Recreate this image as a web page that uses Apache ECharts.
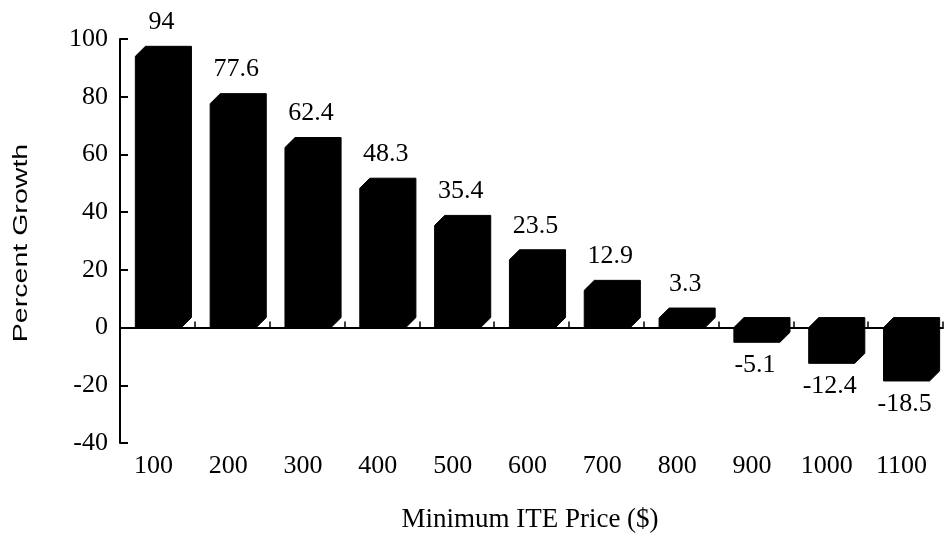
<!DOCTYPE html>
<html>
<head>
<meta charset="utf-8">
<script src="https://cdn.jsdelivr.net/npm/echarts@6/dist/echarts.min.js"></script>
<style>
  html, body { margin: 0; padding: 0; background: #fff; }
  #chart { width: 944px; height: 539px; }
</style>
</head>
<body>
<div id="chart"></div>
<script>
// Minimum ITE price thresholds (x categories)
const categories = ['100', '200', '300', '400', '500', '600', '700', '800', '900', '1000', '1100'];
// Percent growth for each threshold
const growth = [94, 77.6, 62.4, 48.3, 35.4, 23.5, 12.9, 3.3, -5.1, -12.4, -18.5];
// Value axis range
const yMin = -40;
const yMax = 100;
const yStep = 20;

const serif = '"Liberation Serif", "Times New Roman", serif';
const sans = '"Liberation Sans", Arial, sans-serif';

const chart = echarts.init(document.getElementById('chart'), null, { renderer: 'canvas' });

// Bevelled block: front face plus a shifted back face, joined by chamfers
function renderBlock(params, api) {
  const idx = api.value(0);
  const v = api.value(1);
  const base = api.coord([idx, 0]);
  const end = api.coord([idx, v]);
  const band = api.size([1, 0])[0];
  const cx = base[0];
  const xL = cx - band * 0.295;
  const xR = cx + band * 0.32;
  const dx = band * 0.135;
  const dy = 10;
  const yTop = Math.min(base[1], end[1]);
  const yBot = Math.max(base[1], end[1]);
  const points = [
    [xL, yBot],
    [xL, yTop],
    [xL + dx, yTop - dy],
    [xR + dx, yTop - dy],
    [xR + dx, yBot - dy],
    [xR, yBot]
  ];
  const positive = v >= 0;
  return {
    type: 'group',
    children: [
      {
        type: 'polygon',
        shape: { points: points },
        style: { fill: '#000', stroke: '#000', lineWidth: 1, lineJoin: 'round' }
      },
      {
        type: 'text',
        x: positive ? cx + 4 : cx - 1,
        y: positive ? yTop - dy - 24 : yBot + 23,
        style: {
          text: String(v),
          fill: '#000',
          font: '26px ' + serif,
          align: 'center',
          verticalAlign: 'middle'
        }
      }
    ]
  };
}

chart.setOption({
  animation: false,
  backgroundColor: '#fff',
  grid: { left: 120, right: 1, top: 39, bottom: 96, containLabel: false, outerBoundsMode: 'none' },
  xAxis: [
    {
      // zero line with boundary ticks
      type: 'category',
      data: categories,
      boundaryGap: true,
      axisLine: { show: true, onZero: true, lineStyle: { color: '#000', width: 2 } },
      axisTick: { show: true, inside: true, length: 6, lineStyle: { color: '#000', width: 1.5 } },
      axisLabel: { show: false },
      splitLine: { show: false }
    },
    {
      // category labels along the bottom
      type: 'category',
      data: categories,
      position: 'bottom',
      boundaryGap: true,
      axisLine: { show: false, onZero: false },
      axisTick: { show: false },
      axisLabel: {
        show: true,
        margin: 10,
        color: '#000',
        fontFamily: serif,
        fontSize: 26,
        padding: [0, 8, 0, 0]
      },
      splitLine: { show: false }
    }
  ],
  yAxis: {
    type: 'value',
    min: yMin,
    max: yMax,
    interval: yStep,
    axisLine: { show: true, lineStyle: { color: '#000', width: 2 } },
    axisTick: { show: true, inside: true, length: 8, lineStyle: { color: '#000', width: 2 } },
    axisLabel: { margin: 12, color: '#000', fontFamily: serif, fontSize: 26 },
    splitLine: { show: false }
  },
  graphic: [
    {
      type: 'text',
      x: 21,
      y: 243,
      rotation: Math.PI / 2,
      scaleX: 1.36,
      style: {
        text: 'Percent Growth',
        fill: '#000',
        font: '21px ' + sans,
        align: 'center',
        verticalAlign: 'middle'
      }
    },
    {
      type: 'text',
      x: 530,
      y: 520,
      style: {
        text: 'Minimum ITE Price ($)',
        fill: '#000',
        font: '27px ' + serif,
        align: 'center',
        verticalAlign: 'middle'
      }
    }
  ],
  series: [
    {
      type: 'custom',
      xAxisIndex: 0,
      renderItem: renderBlock,
      encode: { x: 0, y: 1 },
      data: growth.map((v, i) => [i, v]),
      z: 3
    }
  ]
});
</script>
</body>
</html>
